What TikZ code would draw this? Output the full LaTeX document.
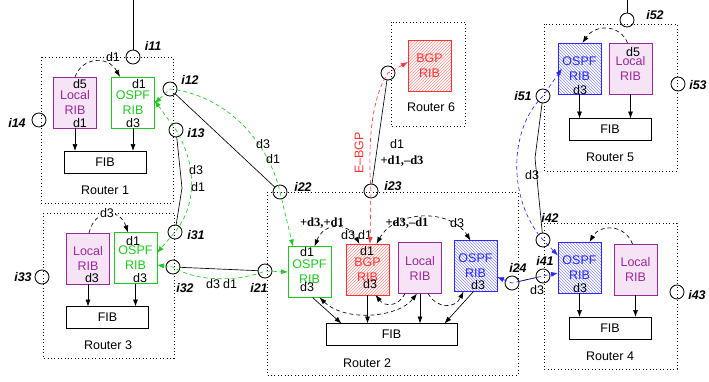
\documentclass[tikz,border=0pt]{standalone}
\usepackage{fontspec}
\setmainfont{Liberation Sans}
\newfontfamily\tmsfont{Liberation Serif}
\usetikzlibrary{arrows.meta,patterns}
\definecolor{ospfgreen}{RGB}{30,200,30}
\definecolor{ospfblue}{RGB}{40,40,255}
\definecolor{bgpred}{RGB}{255,50,50}
\definecolor{localpurple}{RGB}{155,40,155}
\definecolor{localfill}{RGB}{246,228,246}

\begin{document}
\begin{tikzpicture}[x=1pt,y=-1pt,inner sep=0pt,outer sep=0pt,line width=0.65pt,
font=\fontsize{12.5}{15}\selectfont,>={Latex[length=7pt,width=5pt]},
routerbox/.style={draw,line width=0.8pt,dash pattern=on 0.8pt off 2.6pt},
rib/.style={draw,rectangle,minimum width=43pt,minimum height=51pt,align=center},
ospfg/.style={rib,draw=ospfgreen,text=ospfgreen},
ospfb/.style={rib,draw=ospfblue,text=ospfblue,pattern=north west lines,pattern color=ospfblue!55},
bgp/.style={rib,draw=bgpred,text=bgpred,pattern=north east lines,pattern color=bgpred!55},
localrib/.style={rib,draw=localpurple,fill=localfill,text=localpurple},
fib/.style={draw,rectangle,minimum width=82pt,minimum height=22pt},
port/.style={draw,solid,circle,line width=0.85pt,minimum size=14pt},
plabel/.style={font=\fontsize{12.5}{15}\selectfont\bfseries\itshape},
tms/.style={font=\fontsize{12.5}{15}\selectfont\tmsfont\bfseries},
sess/.style={dash pattern=on 4pt off 3pt},
gsess/.style={sess,draw=ospfgreen,<->,>={Latex[length=7pt,width=5pt,color=ospfgreen]}},
bsess/.style={sess,draw=ospfblue,<->,>={Latex[length=7pt,width=5pt,color=ospfblue]}},
rsess/.style={sess,draw=bgpred,<->,>={Latex[length=7pt,width=5pt,color=bgpred]}}]

\useasboundingbox (0,0) rectangle (709,381);

% routers
\draw[routerbox] (41,57) rectangle (173,203);
\draw[routerbox] (43,213) rectangle (174,358);
\draw[routerbox] (267,192) rectangle (518,375);
\draw[routerbox] (544,24) rectangle (677,171);
\draw[routerbox] (544,223) rectangle (677,369);
\draw[routerbox] (391,22) rectangle (465,126);
\draw (105,190) node (rt1) {Router 1};
\draw (108,345) node (rt3) {Router 3};
\draw (367,363) node (rt2) {Router 2};
\draw (610,157) node (rt5) {Router 5};
\draw (610,356) node (rt4) {Router 4};
\draw (431,107) node (rt6) {Router 6};

% RIBs and FIBs
\draw (75,102.5) node[localrib] (l1) {Local\\RIB};
\draw (133,102.5) node[ospfg] (o1) {OSPF\\RIB};
\draw (105,162) node[fib] (f1) {FIB};
\draw (88,258.5) node[localrib] (l3) {Local\\RIB};
\draw (135.5,258) node[ospfg] (o3) {OSPF\\RIB};
\draw (107.5,317.5) node[fib] (f3) {FIB};
\draw (309.5,272) node[ospfg] (o2) {OSPF\\RIB};
\draw (367.5,269.5) node[bgp] (b2) {BGP\\RIB};
\draw (420,268) node[localrib] (l2) {Local\\RIB};
\draw (475.5,266) node[ospfb] (ob2) {OSPF\\RIB};
\draw (391.5,334.5) node[fib,minimum width=131pt] (f2) {FIB};
\draw (579.5,68.5) node[ospfb] (o5) {OSPF\\RIB};
\draw (630.5,68.5) node[localrib] (l5) {Local\\RIB};
\draw (610,129.5) node[fib] (f5) {FIB};
\draw (579.5,267.5) node[ospfb] (o4) {OSPF\\RIB};
\draw (635.5,269.5) node[localrib] (l4) {Local\\RIB};
\draw (610,328) node[fib] (f4) {FIB};
\draw (429.5,66) node[bgp] (b6) {BGP\\RIB};

% route labels inside the RIBs
\draw (80,84) node (l1a) {d5} (80,123) node (l1b) {d1};
\draw (139,84) node (o1a) {d1} (133,123) node (o1b) {d3};
\draw (92,278) node (l3b) {d3};
\draw (133,241) node (o3a) {d1} (140,278) node (o3b) {d3};
\draw (307,252) node (o2a) {d1} (307,287) node (o2b) {d3};
\draw (367,251) node (b2a) {d1} (370,284) node (b2b) {d3};
\draw (478,285) node (ob2b) {d3};
\draw (580,90) node (o5b) {d3} (633,52) node (l5a) {d5};
\draw (580,288) node (o4b) {d3};

% interfaces
\draw (133,57) node[port] (i11) {} (153,46) node[plabel] {i11};
\draw (170,89) node[port] (i12) {} (190,80) node[plabel] {i12};
\draw (176,130) node[port] (i13) {} (196,133) node[plabel] {i13};
\draw (39,120) node[port] (i14) {} (17,123) node[plabel] {i14};
\draw (175,232) node[port] (i31) {} (196,235) node[plabel] {i31};
\draw (173,267) node[port] (i32) {} (185,288) node[plabel] {i32};
\draw (42,277) node[port] (i33) {} (23,277) node[plabel] {i33};
\draw (265,271) node[port] (i21) {} (259,288) node[plabel] {i21};
\draw (280,192) node[port] (i22) {} (303,187) node[plabel] {i22};
\draw (371,191) node[port] (i23) {} (393,186) node[plabel] {i23};
\draw (512,283) node[port] (i24) {} (518,268) node[plabel] {i24};
\draw (543,276) node[port] (i41) {} (545,261) node[plabel] {i41};
\draw (543,240) node[port] (i42) {} (550,218) node[plabel] {i42};
\draw (677,292) node[port] (i43) {} (697,295) node[plabel] {i43};
\draw (543,96) node[port] (i51) {} (523,96) node[plabel] {i51};
\draw (627,20) node[port] (i52) {} (655,15) node[plabel] {i52};
\draw (678,84) node[port] (i53) {} (698,85) node[plabel] {i53};
\draw (388,73) node[port] (i61) {};

% links
\coordinate (top11) at (133,0);
\coordinate (top52) at (627,0);
\coordinate (k13) at (182,188);
\coordinate (k51) at (535,158);
\draw (top11) -- (i11);
\draw (top52) -- (i52);
\draw (i12) -- (i22);
\draw (i13) -- (k13) -- (i31);
\draw (i32) -- (i21);
\draw (i24) -- (i41);
\draw (i51) -- (k51) -- (i42);
\draw (i61) -- (i23);

% RIB -> FIB
\draw[->] (l1.south) -- (l1.south |- f1.north);
\draw[->] (o1.south) -- (o1.south |- f1.north);
\draw[->] (l3.south) -- (l3.south |- f3.north);
\draw[->] (o3.south) -- (o3.south |- f3.north);
\draw[->] (o5.south) -- (o5.south |- f5.north);
\draw[->] (l5.south) -- (l5.south |- f5.north);
\draw[->] (o4.south) -- (o4.south |- f4.north);
\draw[->] (l4.south) -- (l4.south |- f4.north);
\draw[->] ([xshift=3pt]o2.south) -- ([xshift=-50pt]f2.north);
\draw[->] (b2.south) -- (b2.south |- f2.north);
\draw[->] (l2.south) -- (l2.south |- f2.north);
\draw[->] ([xshift=-2pt]ob2.south) -- ([xshift=53pt]f2.north);

% redistribution inside routers
\draw[sess,->] (l1.north) .. controls (82,57) and (108,55) .. ([xshift=-13pt]o1.north);
\draw (113,57) node (d1r1) {d1};
\draw[sess,->] ([xshift=1pt]l3.north) .. controls (95,208) and (120,208) .. ([xshift=-7.5pt]o3.north);
\draw (107,213) node[fill=white,inner sep=1pt] (d3r3) {d3};
\draw[sess,->] ([xshift=-3pt]l5.north) .. controls (620,24) and (595,24) .. ([xshift=3pt]o5.north);
\draw[sess,->] ([xshift=-3pt]l4.north) .. controls (625,224) and (600,224) .. ([xshift=10pt]o4.north);
\draw[sess,<->] ([xshift=5pt]o2.north) .. controls (324,222) and (348,222) .. ([xshift=-8pt]b2.north);
\draw[sess,<->] ([xshift=9pt]b2.north) .. controls (395,210) and (450,208) .. ([xshift=-5pt]ob2.north);
\draw[sess,<->] ([xshift=10pt]o2.south) .. controls (345,322) and (398,318) .. ([xshift=-3pt]l2.south);
\draw[sess,->] ([xshift=-15pt]l2.south) .. controls (398,307) and (385,307) .. ([xshift=8pt]b2.south);
\draw[sess,->] ([xshift=8pt]l2.south) .. controls (437,309) and (455,309) .. ([xshift=-12pt]ob2.south);
\draw (322,223) node[tms] (r2a) {+d3,+d1};
\draw (348,235) node (r2b) {d3} (365,235) node (r2c) {d1};
\draw (407,223) node[tms] (r2d) {+d3,–d1};
\draw (457,223) node (r2e) {d3};

% sessions between routers
\draw[gsess] ([yshift=-1pt]o1.east) -- (i12.center) .. controls (225,95) and (268,140) .. (i22.center) -- ([xshift=5pt]o2.north west);
\draw (263,144) node (g1a) {d3} (273,159) node (g1b) {d1};
\draw[gsess] ([yshift=2pt]o1.east) -- (i13.center) .. controls (197,165) and (197,205) .. (i31.center) -- ([yshift=5pt]o3.east);
\draw (196,170) node (g2a) {d3} (198,187) node (g2b) {d1};
\draw[gsess] ([yshift=-7pt]o3.east) -- (i32.center) .. controls (200,284) and (245,280) .. (i21.center) -- (o2.west);
\draw (213,284) node (g3a) {d3} (230,284) node (g3b) {d1};
\draw[bsess] ([yshift=-11pt]ob2.east) -- (i24.center) -- (i41.center) -- ([yshift=-5.5pt]o4.west);
\draw (537,290) node (b1a) {d3};
\draw[bsess] ([yshift=12pt]o4.west) -- (i42.center) .. controls (508,200) and (508,130) .. (i51.center) -- ([xshift=4pt]o5.west);
\draw (532,175) node (b2l) {d3};
\draw[rsess] ([yshift=4pt]b6.west) -- (i61.center) .. controls (370,100) and (368,150) .. (i23.center) -- ([xshift=2.5pt]b2.north);
\draw (359,153) node[rotate=90,text=bgpred] (ebgp) {E–BGP};
\draw (397,144) node (e1) {d1} (402,161) node[tms] (e2) {+d1,–d3};
\end{tikzpicture}
\end{document}
